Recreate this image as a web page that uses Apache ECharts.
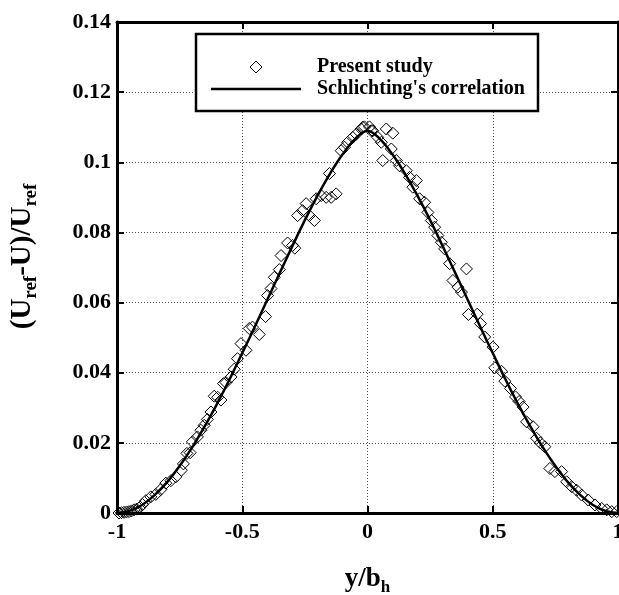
<!DOCTYPE html>
<html>
<head>
<meta charset="utf-8">
<script src="https://cdn.jsdelivr.net/npm/echarts@6/dist/echarts.min.js"></script>
<style>
html,body{margin:0;padding:0;background:#fff;}
#chart{width:619px;height:595px;}
</style>
</head>
<body>
<div id="chart"></div>
<script>
// ---- Data ----
const xTicks = [-1, -0.5, 0, 0.5, 1];
const yTicks = [0, 0.02, 0.04, 0.06, 0.08, 0.1, 0.12, 0.14];

// Present study (measured points): y/b_h
const studyX = [
  -0.992,-0.982,-0.972,-0.962,-0.952,-0.942,-0.932,-0.922,-0.912,-0.898,
  -0.885,-0.865,-0.845,-0.825,-0.805,-0.785,-0.765,-0.743,-0.735,-0.721,
  -0.708,-0.699,-0.679,-0.665,-0.652,-0.639,-0.625,-0.612,-0.598,-0.585,
  -0.575,-0.565,-0.545,-0.532,-0.519,-0.505,-0.485,-0.472,-0.459,-0.432,
  -0.407,-0.399,-0.385,-0.372,-0.352,-0.345,-0.319,-0.299,-0.290,
  -0.279,-0.259,-0.245,-0.232,-0.212,-0.205,-0.185,-0.165,-0.145,-0.125,
  -0.152,-0.105,-0.092,-0.079,-0.059,-0.045,-0.025,-0.019,-0.012,0.008,0.015,
  0.021,0.041,0.055,0.075,0.101,0.061,0.095,0.115,0.128,0.155,
  0.168,0.195,0.181,0.208,0.228,0.241,0.255,0.268,0.281,0.295,
  0.308,0.328,0.395,0.341,0.361,0.375,
  0.403,0.438,0.451,0.468,0.501,0.508,0.535,0.548,0.571,0.591,
  0.605,0.621,0.635,0.661,0.675,0.690,0.708,0.728,0.748,0.775,
  0.795,0.815,0.835,0.855,0.881,0.908,0.935,0.955,0.975,0.995
];
// Present study: (U_ref-U)/U_ref
const studyY = [
  0.0000,0.0001,0.0002,0.0003,0.0004,0.0006,0.0009,0.0011,0.0014,0.0024,
  0.0035,0.0046,0.0053,0.0067,0.0085,0.0092,0.0103,0.0122,0.0140,0.0170,
  0.0172,0.0203,0.0217,0.0236,0.0250,0.0267,0.0288,0.0333,0.0330,0.0322,
  0.0369,0.0372,0.0388,0.0410,0.0440,0.0483,0.0464,0.0526,0.0530,0.0509,
  0.0560,0.0620,0.0640,0.0672,0.0694,0.0734,0.0770,0.0763,0.0755,
  0.0848,0.0862,0.0882,0.0848,0.0834,0.0896,0.0905,0.0900,0.0900,0.0910,
  0.0968,0.1033,0.1043,0.1057,0.1071,0.1080,0.1095,0.1100,0.1101,0.1101,0.1090,
  0.1090,0.1071,0.1057,0.1095,0.1083,0.1005,0.1038,0.1005,0.0990,0.0976,
  0.0957,0.0948,0.0929,0.0896,0.0886,0.0857,0.0834,0.0815,0.0791,0.0772,
  0.0753,0.0711,0.0696,0.0663,0.0644,0.0630,
  0.0566,0.0567,0.0540,0.0502,0.0473,0.0414,0.0404,0.0376,0.0355,0.0331,
  0.0318,0.0302,0.0260,0.0246,0.0213,0.0200,0.0189,0.0127,0.0118,0.0118,
  0.0089,0.0075,0.0065,0.0051,0.0037,0.0023,0.0013,0.0009,0.0004,0.0004
];

// Schlichting's correlation
const curveX = [
  -1,-0.95,-0.9,-0.85,-0.8,-0.75,-0.7,-0.65,-0.6,-0.55,-0.5,-0.45,-0.4,-0.35,-0.3,-0.25,-0.2,-0.15,-0.1,-0.05,
  0,0.05,0.1,0.15,0.2,0.25,0.3,0.35,0.4,0.45,0.5,0.55,0.6,0.65,0.7,0.75,0.8,0.85,0.9,0.95,1
];
const curveY = [
  0.0000,0.0006,0.0023,0.0051,0.0088,0.0134,0.0187,0.0247,0.0312,0.0382,0.0456,0.0531,0.0608,0.0685,0.0761,0.0835,0.0904,0.0967,0.1022,0.1066,
  0.1090,0.1066,0.1022,0.0967,0.0904,0.0835,0.0761,0.0685,0.0608,0.0531,0.0456,0.0382,0.0312,0.0247,0.0187,0.0134,0.0088,0.0051,0.0023,0.0006,0.0000
];

const seriesNames = ['Present study', "Schlichting's correlation"];

// ---- Build chart ----
const FONT = "'Liberation Serif','Times New Roman',serif";
const studyData = studyX.map((x, i) => [x, studyY[i]]);
const curveData = curveX.map((x, i) => [x, curveY[i]]);

const labelStyle = {fontFamily: FONT, fontWeight: 'bold', fontSize: 22, color: '#000'};
const axisLineStyle = {show: true, onZero: false, lineStyle: {color: '#000', width: 3}};
const tickStyle = {show: true, inside: true, length: 7, lineStyle: {color: '#000', width: 2}};
const gridLine = {show: true, lineStyle: {color: '#555', width: 1, type: [1, 2]}};
const richX = {
  m: {fontFamily: FONT, fontWeight: 'bold', fontSize: 27, color: '#000', lineHeight: 34, verticalAlign: 'middle'},
  s: {fontFamily: FONT, fontWeight: 'bold', fontSize: 17, color: '#000', lineHeight: 17, verticalAlign: 'bottom'}
};
const richY = {
  m: {fontFamily: FONT, fontWeight: 'bold', fontSize: 29, color: '#000', lineHeight: 36, verticalAlign: 'middle'},
  s: {fontFamily: FONT, fontWeight: 'bold', fontSize: 19, color: '#000', lineHeight: 18, verticalAlign: 'bottom'}
};

const chart = echarts.init(document.getElementById('chart'), null, {renderer: 'canvas'});
chart.setOption({
  animation: false,
  backgroundColor: '#fff',
  grid: {left: 117, right: 1, top: 22, bottom: 82, containLabel: false, outerBoundsMode: 'none'},
  xAxis: [{
    type: 'value', min: xTicks[0], max: xTicks[xTicks.length - 1], interval: 0.5, position: 'bottom',
    axisLine: axisLineStyle, axisTick: tickStyle, splitLine: gridLine,
    axisLabel: Object.assign({margin: 8, hideOverlap: false}, labelStyle),
    name: '{m|y/b}{s|h}', nameLocation: 'middle', nameGap: 49,
    nameTextStyle: {fontFamily: FONT, fontWeight: 'bold', fontSize: 27, color: '#000', rich: richX}
  }, {
    type: 'value', min: xTicks[0], max: xTicks[xTicks.length - 1], interval: 0.5, position: 'top',
    axisLine: axisLineStyle, axisTick: tickStyle, splitLine: {show: false}, axisLabel: {show: false}
  }],
  yAxis: [{
    type: 'value', min: yTicks[0], max: yTicks[yTicks.length - 1], interval: 0.02, position: 'left',
    axisLine: axisLineStyle, axisTick: tickStyle, splitLine: gridLine,
    axisLabel: Object.assign({margin: 6}, labelStyle),
    name: '{m|(U}{s|ref}{m|-U)/U}{s|ref}', nameLocation: 'middle', nameGap: 76, nameRotate: 90,
    nameTextStyle: {fontFamily: FONT, fontWeight: 'bold', fontSize: 29, color: '#000', rich: richY,
                    padding: [0, 0, 0, 22]}
  }, {
    type: 'value', min: yTicks[0], max: yTicks[yTicks.length - 1], interval: 0.02, position: 'right',
    axisLine: axisLineStyle, axisTick: tickStyle, splitLine: {show: false}, axisLabel: {show: false}
  }],
  graphic: [{
    type: 'rect', z: 2, silent: true,
    shape: {x: 196, y: 34, width: 342, height: 77},
    style: {fill: '#fff', stroke: '#000', lineWidth: 2.5}
  }],
  legend: {
    z: 5, orient: 'vertical', left: 211, top: 56, padding: 0,
    itemWidth: 90, itemHeight: 12, itemGap: 0, symbolKeepAspect: true,
    textStyle: {fontFamily: FONT, fontWeight: 'bold', fontSize: 20, lineHeight: 22, color: '#000', padding: [0, 0, 0, 11]},
    data: [
      {name: seriesNames[0], icon: 'path://M6,0 L12,6 L6,12 L0,6 Z',
       itemStyle: {color: 'transparent', borderColor: '#000', borderWidth: 1}},
      {name: seriesNames[1], icon: 'path://M0,0 L90,0 L90,2.6 L0,2.6 Z',
       itemStyle: {color: '#000', borderWidth: 0}}
    ]
  },
  series: [{
    name: seriesNames[0], type: 'scatter', symbol: 'diamond', symbolSize: 12,
    itemStyle: {color: 'transparent', borderColor: '#000', borderWidth: 1, opacity: 1},
    data: studyData, z: 3
  }, {
    name: seriesNames[1], type: 'line', showSymbol: false, symbol: 'none', smooth: 0.4,
    lineStyle: {color: '#000', width: 2.5}, itemStyle: {color: '#000'},
    data: curveData, z: 4
  }]
});
</script>
</body>
</html>
